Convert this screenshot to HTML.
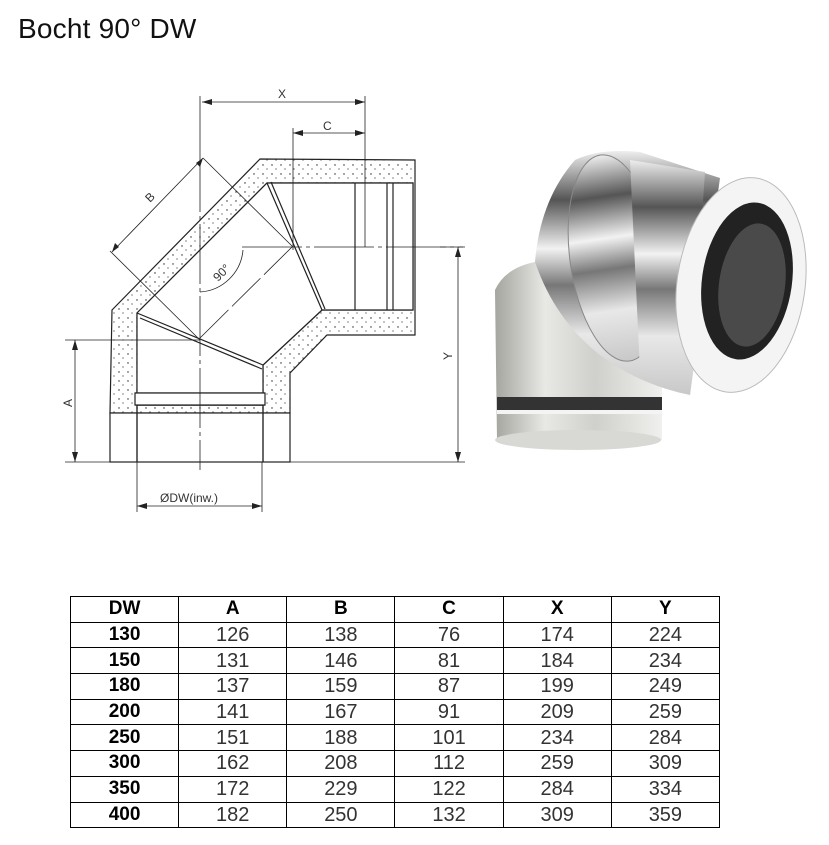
<!DOCTYPE html>
<html><head><meta charset="utf-8"><style>
body{margin:0;background:#fff;width:829px;height:845px;overflow:hidden;position:relative;font-family:"Liberation Sans",sans-serif}
h1{position:absolute;left:18px;top:13px;margin:0;font-size:28px;font-weight:normal;color:#111;letter-spacing:0.2px}
table{position:absolute;left:70px;top:596px;border-collapse:collapse;width:650px}
td{border:1.3px solid #000;height:24.7px;padding:0;text-align:center;font-size:20px;color:#333;width:108px;line-height:24px}
td.b,tr.h td{font-weight:bold;color:#000;font-size:19px}
</style></head><body>
<h1>Bocht 90° DW</h1>
<svg width="829" height="560" style="position:absolute;left:0;top:0">
<defs>
<pattern id="dots" width="9" height="9" patternUnits="userSpaceOnUse"><rect width="9" height="9" fill="#fff"/><circle cx="2" cy="3" r="0.7" fill="#222"/><circle cx="6" cy="7" r="0.6" fill="#333"/></pattern>
<linearGradient id="g1" x1="0" x2="1"><stop offset="0" stop-color="#a5a5a0"/><stop offset="0.3" stop-color="#e8e8e4"/><stop offset="0.6" stop-color="#cfcfcb"/><stop offset="1" stop-color="#f0f0ee"/></linearGradient>
<linearGradient id="g2" x1="0" y1="0" x2="0" y2="1"><stop offset="0" stop-color="#eee"/><stop offset="0.2" stop-color="#555"/><stop offset="0.4" stop-color="#f2f2f2"/><stop offset="0.55" stop-color="#777"/><stop offset="0.75" stop-color="#e8e8e8"/><stop offset="1" stop-color="#c8c8c8"/></linearGradient>
</defs>
<g stroke="#222" stroke-width="1.2" fill="none">
<path d="M112,310 L260,159 L415,160 L415,335 L327,335 L290,373 L290,413 L110,413 Z M137,313 L137,405 L263,405 L263,365 L322,310 L413,310 L413,183 L267,183 Z" fill="url(#dots)" fill-rule="evenodd"/>
<path d="M137,313 L267,183 L413,183 L413,310 L322,310 L263,365 L263,405 L137,405 Z" fill="#fff"/>
<path d="M137,313 L263,365 M140,318 L262,369 M267,183 L322,310 M271,182 L325,309"/>
<path d="M355,183 V310 M387,183 V310 M393,183 V310"/>
<rect x="110" y="413" width="180" height="49" fill="#fff"/>
<path d="M137,393 V462 M263,393 V462 M135,393 H265 M135,405 H265"/>
<rect x="135" y="393" width="130" height="12" fill="#fff"/>
<path d="M137,405 V462 M263,405 V462"/>
<path d="M200,152 V470 M242,247 H463" stroke-dasharray="60,4,4,4" stroke-width="0.8"/>
<path d="M200,338 L292,247" stroke-dasharray="40,5" stroke-width="0.8"/>
<path d="M200,292 A46,46 0 0 0 243,250" stroke-width="0.8"/>
<g stroke-width="0.8">
<path d="M202,102 H365 M293,133 H365 M200,96 V152 M365,96 V247 M293,128 V250"/>
<path d="M458,247 V462 M440,247 H465 M290,462 H465 M75,340 V462 M65,340 H200 M65,462 H110 M137,462 V512 M262,462 V512 M137,506 H262"/>
<path d="M203,158 L112,252 M203,158 L293,247 M110,251 L200,340"/>
</g>
</g>
<g fill="#222">
<path d="M202,102 l10,-3 v6z M365,102 l-10,-3 v6z M293,133 l10,-3 v6z M365,133 l-10,-3 v6z M458,247 l-3,10 h6z M458,462 l-3,-10 h6z M75,340 l-3,10 h6z M75,462 l-3,-10 h6z M137,506 l10,-3 v6z M262,506 l-10,-3 v6z M203,158 l-3,9 l-4,-4z M112,252 l3,-9 l4,4z"/>
</g>
<g font-size="12" fill="#333" font-family="Liberation Sans,sans-serif">
<text x="278" y="98">X</text><text x="323" y="130">C</text>
<text x="452" y="360" transform="rotate(-90 452 360)">Y</text>
<text x="72" y="407" transform="rotate(-90 72 407)">A</text>
<text x="150" y="203" transform="rotate(-45 150 203)">B</text>
<text x="218" y="282" transform="rotate(-45 218 282)">90°</text>
<text x="160" y="502">ØDW(inw.)</text>
</g>
<g>
<path d="M495,290 Q505,268 535,262 L600,330 L662,370 L662,440 Q580,458 497,440 Z" fill="url(#g1)"/>
<ellipse cx="578" cy="440" rx="83" ry="10" fill="#d8d8d4"/>
<rect x="497" y="397" width="165" height="13" fill="#333"/>
<rect x="497" y="410" width="165" height="4" fill="#f4f4f4"/>
<path d="M535,262 Q540,200 575,160 Q600,148 640,152 L720,178 L690,395 Q640,385 600,355 Q555,320 535,262 Z" fill="url(#g2)"/>
<ellipse cx="615" cy="258" rx="45" ry="104" fill="url(#g2)" stroke="#888" transform="rotate(-8 615 258)"/>
<path d="M630,160 L705,172 L690,395 L640,372 Z" fill="url(#g2)"/>
<ellipse cx="741" cy="285" rx="64" ry="108" fill="#f4f4f4" stroke="#bbb" transform="rotate(8 741 285)"/>
<ellipse cx="747" cy="281" rx="45" ry="79" fill="#222" transform="rotate(8 747 281)"/>
<ellipse cx="752" cy="285" rx="33" ry="62" fill="#4a4a4a" transform="rotate(8 752 285)"/>
</g>
</svg>
<table>
<tr class="h"><td>DW</td><td>A</td><td>B</td><td>C</td><td>X</td><td>Y</td></tr>
<tr><td class="b">130</td><td>126</td><td>138</td><td>76</td><td>174</td><td>224</td></tr>
<tr><td class="b">150</td><td>131</td><td>146</td><td>81</td><td>184</td><td>234</td></tr>
<tr><td class="b">180</td><td>137</td><td>159</td><td>87</td><td>199</td><td>249</td></tr>
<tr><td class="b">200</td><td>141</td><td>167</td><td>91</td><td>209</td><td>259</td></tr>
<tr><td class="b">250</td><td>151</td><td>188</td><td>101</td><td>234</td><td>284</td></tr>
<tr><td class="b">300</td><td>162</td><td>208</td><td>112</td><td>259</td><td>309</td></tr>
<tr><td class="b">350</td><td>172</td><td>229</td><td>122</td><td>284</td><td>334</td></tr>
<tr><td class="b">400</td><td>182</td><td>250</td><td>132</td><td>309</td><td>359</td></tr>
</table>
</body></html>
